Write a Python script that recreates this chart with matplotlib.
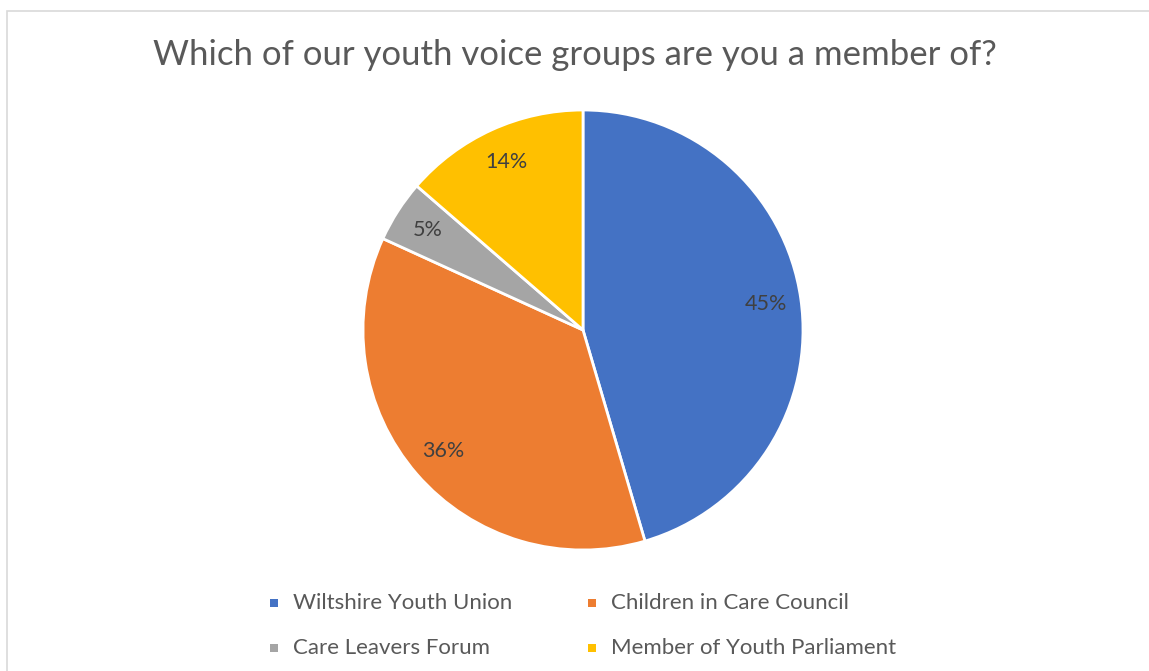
import matplotlib

matplotlib.use("Agg")
import matplotlib.pyplot as plt
from matplotlib.patches import Rectangle

TITLE = "Which of our youth voice groups are you a member of?"
GROUPS = [
    "Wiltshire Youth Union",
    "Children in Care Council",
    "Care Leavers Forum",
    "Member of Youth Parliament",
]
COUNTS = [10, 8, 1, 3]
COLORS = ["#4472C4", "#ED7D31", "#A5A5A5", "#FFC000"]

FONT = "Lato"
TXT = "#595959"
LBL = "#404040"

W, H = 1149, 671
fig = plt.figure(figsize=(W / 100, H / 100), dpi=100)
fig.patch.set_facecolor("white")

# chart frame (light grey, runs off right and bottom edges)
fig.patches.append(
    Rectangle((6.5 / W, -0.1), 1.2, 1 - 10.5 / H + 0.1, transform=fig.transFigure,
              facecolor="none", edgecolor="#D9D9D9", linewidth=1.2)
)

cx, cy, r = 583, 330, 220
ax = fig.add_axes([(cx - r) / W, (H - cy - r) / H, 2 * r / W, 2 * r / H])
wedges, _, autotexts = ax.pie(
    COUNTS,
    colors=COLORS,
    startangle=90,
    counterclock=False,
    autopct=lambda p: "%d%%" % round(p),
    pctdistance=0.84,
    radius=1.0,
    wedgeprops=dict(edgecolor="white", linewidth=2),
    textprops=dict(color=LBL, fontsize=15.5, family=FONT),
)
ax.set_xlim(-1, 1)
ax.set_ylim(-1, 1)
ax.set_aspect("equal")
ax.axis("off")

fig.text(0.5, 1 - 55 / H, TITLE, ha="center", va="center",
         color=TXT, fontsize=25, family=FONT)

# legend, two columns filled row by row
col_x = [274, 592]
row_y = [603, 648]
sq = 8
for i, (name, col) in enumerate(zip(GROUPS, COLORS)):
    x = col_x[i % 2]
    y = row_y[i // 2]
    fig.patches.append(
        Rectangle(((x - sq / 2) / W, 1 - (y + sq / 2) / H), sq / W, sq / H,
                  transform=fig.transFigure, facecolor=col, edgecolor="none")
    )
    fig.text((x + 19) / W, 1 - y / H, name, ha="left", va="center",
             color=TXT, fontsize=16, family=FONT)

fig.savefig("out.png", dpi=100, facecolor="white")
